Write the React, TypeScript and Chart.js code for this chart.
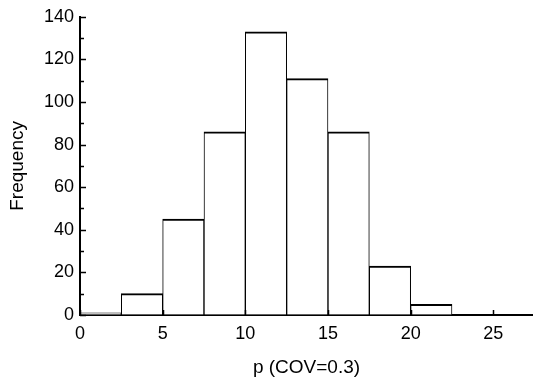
import React, { useEffect, useRef } from "react";
import { Chart, registerables } from "chart.js";

Chart.register(...registerables);

// Histogram bins (width 2.5) – bin centres and frequencies
const binCenters = [1.25, 3.75, 6.25, 8.75, 11.25, 13.75, 16.25, 18.75, 21.25];
const frequencies = [1, 10, 45, 86, 133, 111, 86, 23, 5];

const yMajorTicks = [0, 20, 40, 60, 80, 100, 120, 140];
const yMinorTicks = [10, 30, 50, 70, 90, 110, 130];
const xMajorTicks = [0, 5, 10, 15, 20, 25];

const xTitle = "p (COV=0.3)";
const yTitle = "Frequency";

const FONT = "'Liberation Sans', Arial, Helvetica, sans-serif";

const innerTicks = {
  id: "innerTicks",
  afterDraw(chart: any) {
    const { ctx, chartArea, scales } = chart;
    const xs = scales.x;
    const ys = scales.y;
    ctx.save();
    ctx.strokeStyle = "#000";
    ctx.lineWidth = 1.5;
    ctx.beginPath();
    yMajorTicks.forEach((v) => {
      const p = Math.round(ys.getPixelForValue(v)) + 0.5;
      ctx.moveTo(chartArea.left, p);
      ctx.lineTo(chartArea.left + 6, p);
    });
    yMinorTicks.forEach((v) => {
      const p = Math.round(ys.getPixelForValue(v)) + 0.5;
      ctx.moveTo(chartArea.left, p);
      ctx.lineTo(chartArea.left + 4, p);
    });
    xMajorTicks.forEach((v) => {
      const p = Math.round(xs.getPixelForValue(v)) + 0.5;
      ctx.moveTo(p, chartArea.bottom);
      ctx.lineTo(p, chartArea.bottom - 5);
    });
    ctx.stroke();
    ctx.restore();
  },
};

export default function App() {
  const ref = useRef<HTMLCanvasElement | null>(null);

  useEffect(() => {
    if (!ref.current) return;
    const chart = new Chart(ref.current, {
      type: "bar",
      data: {
        datasets: [
          {
            data: binCenters.map((x, i) => ({ x, y: frequencies[i] })),
            backgroundColor: "#ffffff",
            borderColor: "#000000",
            borderWidth: { top: 2, left: 1, right: 1, bottom: 0 } as any,
            borderSkipped: "start",
            barPercentage: 1,
            categoryPercentage: 1,
          },
        ],
      },
      options: {
        responsive: false,
        animation: false,
        layout: { padding: { top: 14, right: 0, left: 0, bottom: 0 } },
        plugins: {
          legend: { display: false },
          tooltip: { enabled: false },
        },
        scales: {
          x: {
            type: "linear",
            min: 0,
            max: 27.4,
            offset: false,
            grid: { drawOnChartArea: false, drawTicks: false },
            border: { display: true, color: "#000", width: 2 },
            ticks: {
              stepSize: 5,
              includeBounds: false,
              padding: 8,
              color: "#000",
              font: { family: FONT, size: 18 },
              maxRotation: 0,
            },
            title: {
              display: true,
              text: xTitle,
              color: "#000",
              font: { family: FONT, size: 19 },
              padding: { top: 0, bottom: 9 },
            },
            afterFit: (s: any) => {
              s.height = 73;
            },
          },
          y: {
            min: 0,
            max: 140,
            grid: { drawOnChartArea: false, drawTicks: false },
            border: { display: true, color: "#000", width: 2 },
            ticks: {
              stepSize: 20,
              padding: 6,
              color: "#000",
              font: { family: FONT, size: 18 },
            },
            title: {
              display: true,
              text: yTitle,
              color: "#000",
              font: { family: FONT, size: 19 },
              padding: { top: 6, bottom: 0 },
            },
            afterFit: (s: any) => {
              s.width = 80;
            },
          },
        },
      },
      plugins: [innerTicks],
    });
    return () => chart.destroy();
  }, []);

  return (
    <div style={{ position: "absolute", left: 0, top: 0, width: 533, height: 388, background: "#fff" }}>
      <canvas ref={ref} width={533} height={388} />
    </div>
  );
}
